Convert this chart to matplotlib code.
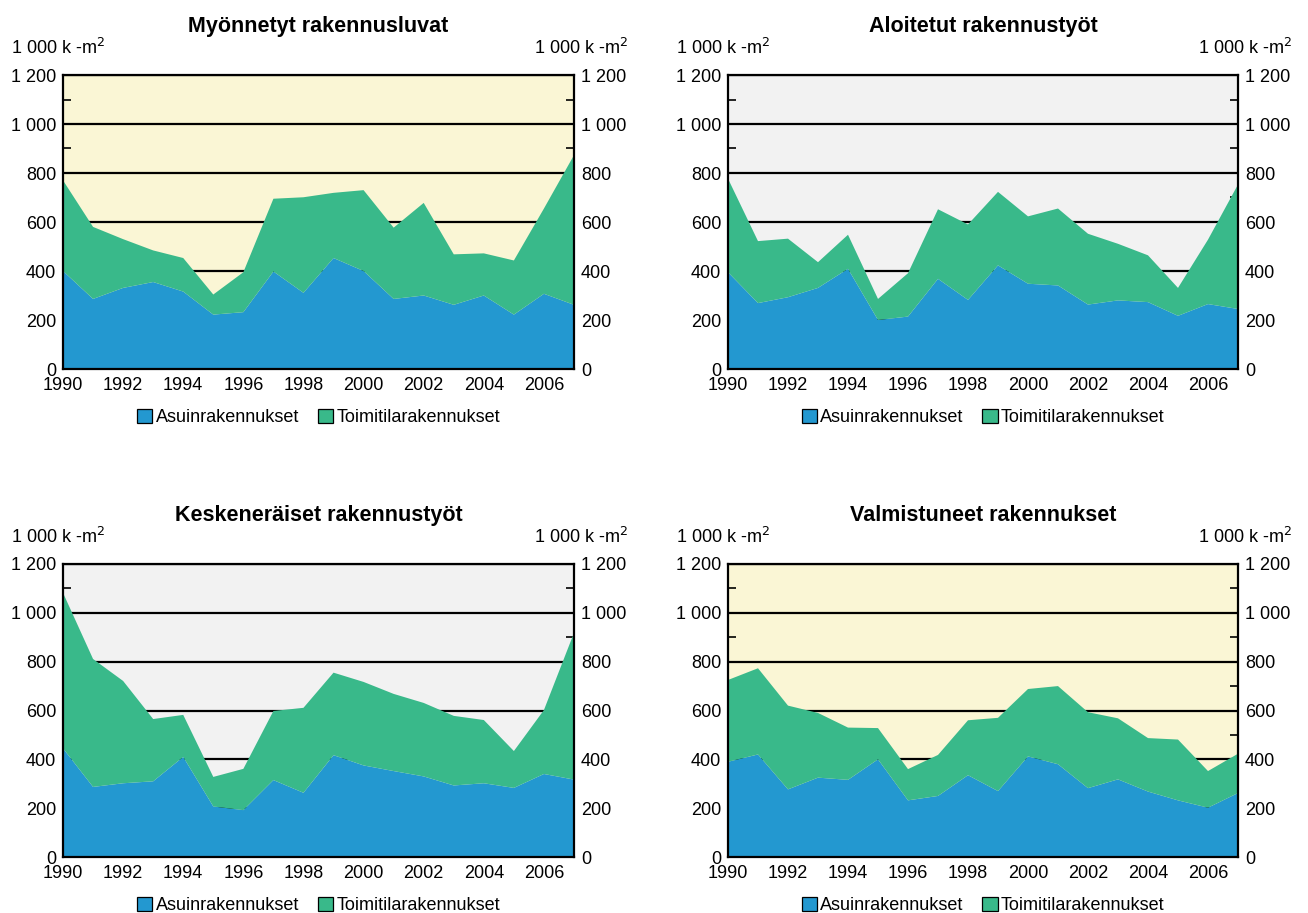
import matplotlib

matplotlib.use("Agg")
import matplotlib.pyplot as plt
from matplotlib.patches import Patch
from matplotlib.ticker import FuncFormatter, MultipleLocator

plt.rcParams["font.family"] = ["Liberation Sans", "DejaVu Sans"]

years = list(range(1990, 2008))

titles = ["Myönnetyt rakennusluvat", "Aloitetut rakennustyöt",
          "Keskeneräiset rakennustyöt", "Valmistuneet rakennukset"]
series_names = ["Asuinrakennukset", "Toimitilarakennukset"]
unit_label = "1 000 k -m$^2$"

# Asuinrakennukset (residential), 1 000 m2
asuin = [
    [400, 286, 331, 355, 316, 222, 232, 398, 311, 453, 400, 286, 300, 262, 300, 222, 307, 262],
    [395, 269, 293, 331, 409, 200, 214, 368, 282, 423, 348, 341, 263, 280, 273, 217, 265, 245],
    [445, 287, 302, 310, 410, 207, 192, 315, 263, 417, 375, 352, 330, 293, 302, 283, 340, 317],
    [390, 420, 277, 325, 316, 400, 232, 250, 335, 270, 412, 380, 282, 318, 268, 232, 202, 262],
]
# Kokonaismäärä (top of stack), 1 000 m2
total = [
    [770, 580, 530, 484, 453, 304, 395, 695, 701, 719, 730, 577, 678, 468, 472, 443, 655, 873],
    [777, 522, 532, 436, 548, 286, 391, 652, 590, 723, 623, 655, 552, 511, 464, 331, 528, 753],
    [1082, 811, 721, 565, 582, 328, 361, 598, 611, 755, 717, 668, 631, 578, 561, 434, 602, 918],
    [725, 773, 620, 590, 530, 528, 360, 418, 560, 570, 688, 700, 593, 568, 487, 481, 352, 423],
]
toimitila = [[t - a for t, a in zip(tt, aa)] for tt, aa in zip(total, asuin)]

BLUE = "#2398d0"
GREEN = "#39b98a"
YELLOW_BG = "#faf6d5"
GREY_BG = "#f2f2f2"
backgrounds = [YELLOW_BG, GREY_BG, GREY_BG, YELLOW_BG]

W, H = 1308, 913
# axes boxes in pixels: left, top, right, bottom
boxes = [(63, 75, 574, 369), (728, 75, 1238, 369),
         (63, 564, 574, 857), (728, 564, 1238, 857)]

fmt = FuncFormatter(lambda v, p: f"{int(v):,}".replace(",", " "))
FS = 13

fig = plt.figure(figsize=(W / 100, H / 100), dpi=100)

for i in range(4):
    l, t, r, b = boxes[i]
    ax = fig.add_axes([l / W, 1 - b / H, (r - l) / W, (b - t) / H])
    ax.set_facecolor(backgrounds[i])
    ax.stackplot(years, asuin[i], toimitila[i], colors=[BLUE, GREEN], linewidth=0)
    ax.set_xlim(1990, 2007)
    ax.set_ylim(0, 1200)
    ax.set_axisbelow(True)
    ax.yaxis.set_major_locator(MultipleLocator(200))
    ax.yaxis.set_minor_locator(MultipleLocator(100))
    ax.xaxis.set_major_locator(MultipleLocator(2))
    ax.xaxis.set_minor_locator(MultipleLocator(1))
    ax.yaxis.set_major_formatter(fmt)
    ax.grid(axis="y", which="major", color="black", lw=1.6)
    ax.tick_params(axis="both", which="both", direction="in", labelsize=FS,
                   right=True, labelright=True, width=1.2, length=6)
    ax.tick_params(axis="y", pad=5)
    ax.tick_params(axis="x", pad=6)
    for s in ax.spines.values():
        s.set_linewidth(1.6)

    ax.set_title(titles[i], fontsize=15.5, fontweight="bold", pad=31)
    ax.text(-0.102, 1.07, unit_label, transform=ax.transAxes, fontsize=FS,
            ha="left", va="baseline")
    ax.text(1.106, 1.07, unit_label, transform=ax.transAxes, fontsize=FS,
            ha="right", va="baseline")

    handles = [Patch(facecolor=BLUE, edgecolor="black", lw=0.9),
               Patch(facecolor=GREEN, edgecolor="black", lw=0.9)]
    ax.legend(handles, series_names, loc="center", bbox_to_anchor=(0.5, -0.165),
              ncol=2, frameon=False, fontsize=FS, handlelength=0.85,
              handleheight=0.85, handletextpad=0.17, columnspacing=1.05,
              borderpad=0, borderaxespad=0)

fig.savefig("out.png", dpi=100)
